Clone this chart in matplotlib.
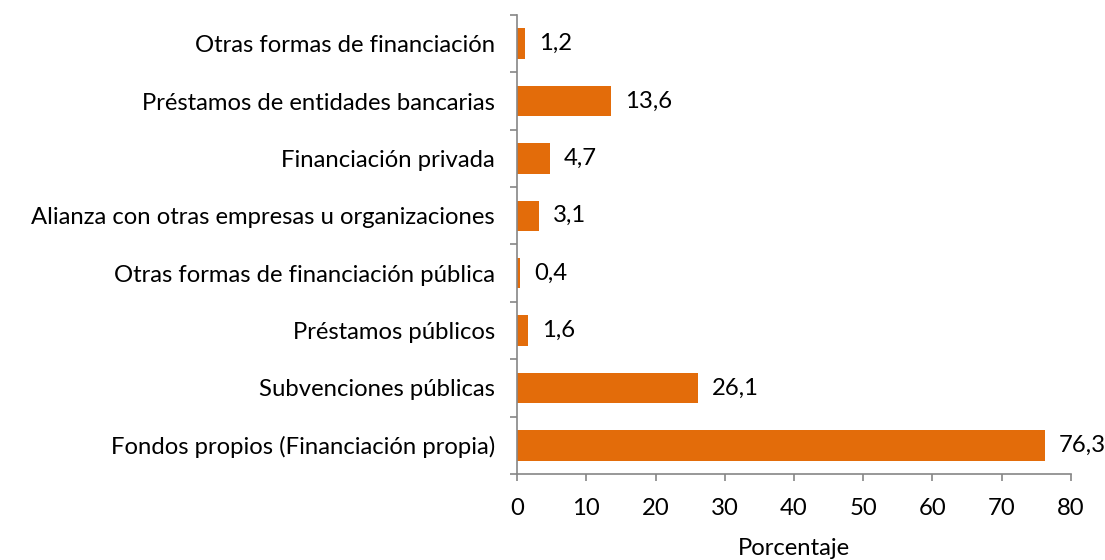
import matplotlib.pyplot as plt
import numpy as np

# Data (bottom to top as drawn)
categorias = [
    "Fondos propios (Financiación propia)",
    "Subvenciones públicas",
    "Préstamos públicos",
    "Otras formas de financiación pública",
    "Alianza con otras empresas u organizaciones",
    "Financiación privada",
    "Préstamos de entidades bancarias",
    "Otras formas de financiación",
]
valores = [76.3, 26.1, 1.6, 0.4, 3.1, 4.7, 13.6, 1.2]
xticks = [0, 10, 20, 30, 40, 50, 60, 70, 80]

plt.rcParams['font.family'] = ['Lato', 'DejaVu Sans']
fs = 17.2

fig = plt.figure(figsize=(11.05, 5.6), dpi=100)
ax = fig.add_axes([0.468, 0.1536, 0.501, 0.8196])

y = np.arange(len(categorias))
ax.barh(y, valores, height=0.53, color='#E36C0A')

for yi, v in zip(y, valores):
    ax.annotate(f"{v:.1f}".replace('.', ','), (v, yi), xytext=(10, 0),
                textcoords='offset points', va='center', ha='left', fontsize=fs)

ax.set_xlim(0, 80)
ax.set_ylim(-0.5, len(categorias) - 0.5)
ax.set_xticks(xticks)
ax.set_xticklabels([str(t) for t in xticks], fontsize=fs)

# category labels without ticks, ticks at boundaries
ax.set_yticks(y)
ax.set_yticklabels(categorias, fontsize=fs)
ax.tick_params(axis='y', length=0, pad=16)
ax.set_yticks(np.arange(-0.5, len(categorias), 1), minor=True)
ax.tick_params(axis='y', which='minor', length=5, color='#868686', width=1.2)
ax.tick_params(axis='x', length=5, color='#868686', width=1.2, pad=12)

for s in ['top', 'right']:
    ax.spines[s].set_visible(False)
for s in ['left', 'bottom']:
    ax.spines[s].set_color('#868686')
    ax.spines[s].set_linewidth(1.2)

ax.set_xlabel("Porcentaje", fontsize=fs, labelpad=14)

fig.savefig("out.png", dpi=100)
